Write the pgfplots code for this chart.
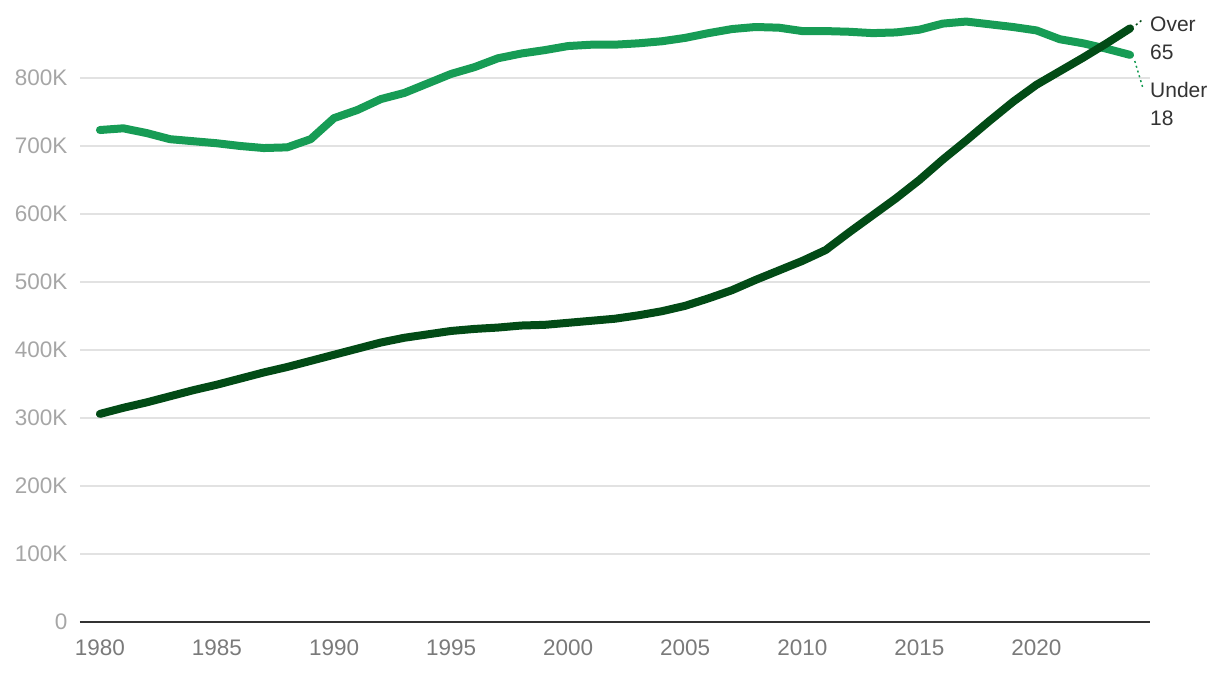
\documentclass[border=0pt]{standalone}
\usepackage{fontspec}
\setmainfont{Liberation Sans}
\usepackage{pgfplots}
\pgfplotsset{compat=1.18}
\definecolor{under}{HTML}{179C55}
\definecolor{over}{HTML}{024B16}
\definecolor{ylab}{HTML}{A6A6A6}
\definecolor{xlab}{HTML}{7A7A7A}
\definecolor{gridc}{HTML}{E2E2E2}
\definecolor{txt}{HTML}{333333}
\begin{document}
\begin{tikzpicture}
\useasboundingbox (-80pt,-50pt) rectangle (1140pt,622pt);
\begin{axis}[
  at={(0pt,0pt)}, anchor=south west,
  scale only axis, width=1070pt, height=612pt,
  xmin=1979.15, xmax=2024.85, ymin=0, ymax=900,
  axis line style={draw=none},
  major tick length=0pt,
  ymajorgrids, grid style={gridc, line width=1.5pt},
  ytick={0,100,...,800},
  yticklabels={0,100K,200K,300K,400K,500K,600K,700K,800K},
  xtick={1980,1985,...,2020},
  xticklabels={1980,1985,1990,1995,2000,2005,2010,2015,2020},
  tick label style={font=\fontsize{22.5}{26}\selectfont},
  yticklabel style={ylab, xshift=-9pt},
  xticklabel style={xlab, yshift=-14pt},
  clip=false,
]
\draw[txt, line width=2.2pt] (rel axis cs:0,0) -- (rel axis cs:1,0);
\addplot[under, line width=8pt, line cap=round, line join=round] coordinates {
(1980,723.5)(1981,726)(1982,719)(1983,710)(1984,707)(1985,704)(1986,700)(1987,697)(1988,698)(1989,710)
(1990,741)(1991,753)(1992,769)(1993,778)(1994,792)(1995,806)(1996,816)(1997,829)(1998,836)(1999,841)
(2000,847)(2001,849)(2002,849)(2003,851)(2004,854)(2005,859)(2006,866)(2007,872)(2008,875)(2009,874)
(2010,869)(2011,869)(2012,868)(2013,866)(2014,867)(2015,871)(2016,880)(2017,883)(2018,879)(2019,875)
(2020,870)(2021,857)(2022,851)(2023,843)(2024,834)
};
\addplot[over, line width=8pt, line cap=round, line join=round] coordinates {
(1980,306)(1981,315)(1982,323)(1983,332)(1984,341)(1985,349)(1986,358)(1987,367)(1988,375)(1989,384)
(1990,393)(1991,402)(1992,411)(1993,418)(1994,423)(1995,428)(1996,431)(1997,433)(1998,436)(1999,437)
(2000,440)(2001,443)(2002,446)(2003,451)(2004,457)(2005,465)(2006,476)(2007,488)(2008,503)(2009,517)
(2010,531)(2011,547)(2012,573)(2013,598)(2014,623)(2015,650)(2016,680)(2017,708)(2018,737)(2019,765)
(2020,790)(2021,810)(2022,830)(2023,851)(2024,873)
};
\draw[over, line width=1.5pt, dash pattern=on 2pt off 3pt] (axis cs:2024.25,878) -- (axis cs:2024.5,885);
\draw[under, line width=1.5pt, dash pattern=on 2pt off 3pt] (axis cs:2024.2,825) -- (axis cs:2024.55,785);
\end{axis}
\node[anchor=west, align=left, txt, font=\fontsize{21}{28}\selectfont, inner sep=0pt] at (1070pt,584pt) {Over\\65};
\node[anchor=west, align=left, txt, font=\fontsize{21}{28}\selectfont, inner sep=0pt] at (1070pt,518pt) {Under\\18};
\end{tikzpicture}
\end{document}
